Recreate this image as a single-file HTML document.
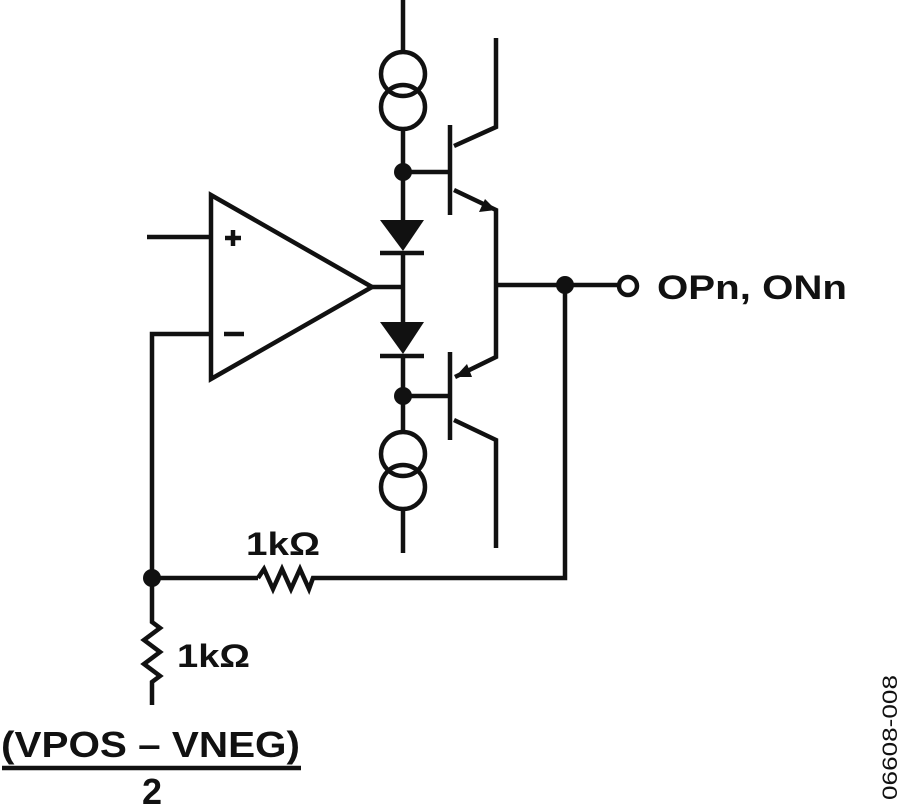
<!DOCTYPE html>
<html><head><meta charset="utf-8"><style>
html,body{margin:0;padding:0;background:#fff;}
svg{display:block;}
text{font-family:"Liberation Sans",Arial,sans-serif;font-weight:bold;fill:#111;}
</style></head><body>
<svg width="900" height="806" viewBox="0 0 900 806" xmlns="http://www.w3.org/2000/svg">
<g stroke="#111" stroke-width="4.5" fill="none">
<line x1="403" y1="0" x2="403" y2="52"/>
<circle cx="403" cy="74" r="22"/>
<circle cx="403" cy="107" r="22"/>
<line x1="403" y1="129" x2="403" y2="220"/>
<line x1="403" y1="172" x2="450" y2="172"/>
<line x1="380" y1="253" x2="424" y2="253"/>
<line x1="403" y1="253" x2="403" y2="322"/>
<line x1="372" y1="287" x2="403" y2="287"/>
<line x1="380" y1="356" x2="424" y2="356"/>
<line x1="403" y1="356" x2="403" y2="432"/>
<line x1="403" y1="396" x2="450" y2="396"/>
<circle cx="403" cy="454" r="22"/>
<circle cx="403" cy="487" r="22"/>
<line x1="403" y1="509" x2="403" y2="553"/>
<line x1="450" y1="125" x2="450" y2="215"/>
<polyline points="454,146 496,127 496,38"/>
<polyline points="454,190 496,210 496,357 455,377"/>
<line x1="496" y1="285" x2="619" y2="285"/>
<line x1="450" y1="352" x2="450" y2="440"/>
<polyline points="454,420 496,440 496,548"/>
<polygon points="211,195 211,379 372,287" stroke-linejoin="miter"/>
<line x1="147" y1="237" x2="211" y2="237"/>
<polyline points="211,334 152,334 152,605"/>
<line x1="152" y1="578" x2="258" y2="578"/>
<polyline points="258,578 264,569 273,589 282,569 291,589 300,569 309,589 313,578 565,578 565,285"/>
<polyline points="152,605 152,622 160,628 144,640 160,652 144,664 160,676 152,682 152,705"/>
<line x1="2" y1="768" x2="301" y2="768"/>
<circle cx="628" cy="286" r="9"/>
<line x1="225" y1="238" x2="241" y2="238"/>
<line x1="233" y1="230" x2="233" y2="246"/>
<line x1="224" y1="334" x2="244" y2="334"/>
</g>
<g fill="#111">
<polygon points="380,220 424,220 403,251"/>
<polygon points="380,322 424,322 403,354"/>
<polygon points="496,210 479,212 485,199"/>
<polygon points="455,377 467,364 472,377"/>
<circle cx="403" cy="172" r="9"/>
<circle cx="403" cy="396" r="9"/>
<circle cx="565" cy="285" r="9"/>
<circle cx="152" cy="578" r="9"/>
</g>
<text x="657" y="299" font-size="34" textLength="190" lengthAdjust="spacingAndGlyphs">OPn, ONn</text>
<text x="246" y="555" font-size="32" textLength="74" lengthAdjust="spacingAndGlyphs">1kΩ</text>
<text x="177" y="667" font-size="32" textLength="73" lengthAdjust="spacingAndGlyphs">1kΩ</text>
<text x="1" y="757" font-size="36" textLength="299" lengthAdjust="spacingAndGlyphs">(VPOS – VNEG)</text>
<text x="152" y="804" font-size="36" text-anchor="middle">2</text>
<text transform="translate(897,800) rotate(-90)" font-size="21" textLength="125" lengthAdjust="spacingAndGlyphs" style="font-weight:normal">06608-008</text>
</svg>
</body></html>
